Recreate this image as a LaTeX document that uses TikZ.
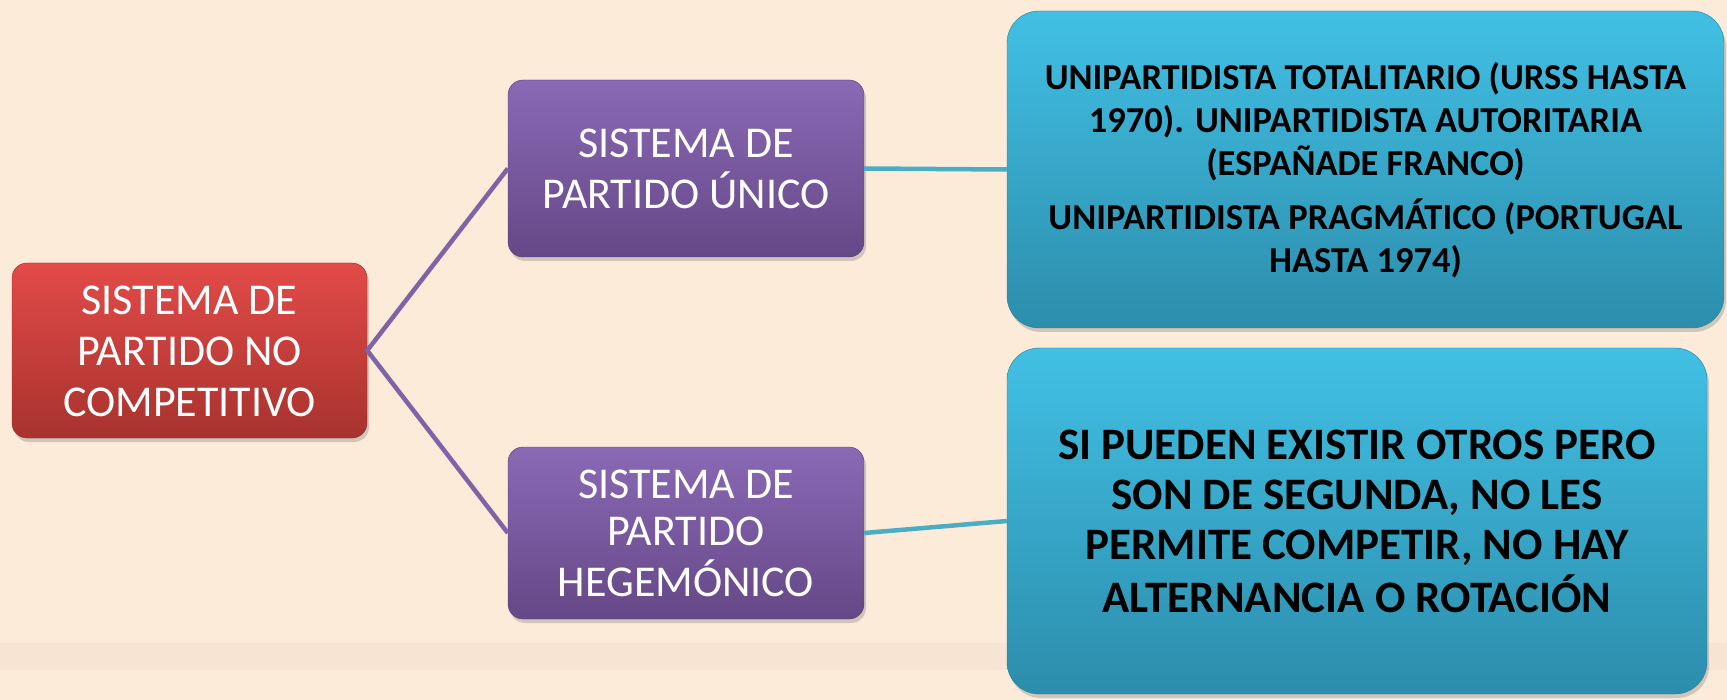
\documentclass[tikz,border=0pt]{standalone}
\usepackage{fontspec}
\setmainfont{Carlito}
\usetikzlibrary{shadows}

\definecolor{bgpeach}{HTML}{FDEBDA}
\definecolor{bgband}{HTML}{F4DFCD}
\definecolor{redtop}{HTML}{E24B48}
\definecolor{redbot}{HTML}{A8322E}
\definecolor{purtop}{HTML}{8A69B5}
\definecolor{purbot}{HTML}{654887}
\definecolor{blutop}{HTML}{41C0E4}
\definecolor{blubot}{HTML}{2C8DAC}
\definecolor{purline}{HTML}{7E64A6}
\definecolor{bluline}{HTML}{4BACC6}

% centred lines, set a little lower than the box centre
\newcommand{\boxtext}[2][5pt]{\raisebox{-#1}[\height][\depth]{\begin{tabular}{@{}c@{}}#2\end{tabular}}}

\tikzset{
  boxbase/.style={rectangle, inner sep=0pt,
    drop shadow={shadow xshift=2pt, shadow yshift=-4pt, opacity=0.35}},
  redbox/.style={boxbase, rounded corners=15pt, draw=redbot!85!black,
    top color=redtop, bottom color=redbot, text=white,
    minimum width=355pt, minimum height=175pt,
    font=\fontsize{44}{51}\selectfont},
  purplebox/.style={boxbase, rounded corners=15pt, draw=purbot!85!black,
    top color=purtop, bottom color=purbot, text=white,
    minimum width=356pt, font=\fontsize{44}{47}\selectfont},
  bluebox/.style={boxbase, rounded corners=32pt, draw=blubot!90!black,
    top color=blutop, bottom color=blubot, text=black},
  purpleline/.style={purline, line width=4.5pt},
  blueline/.style={bluline, line width=4.5pt}
}

\begin{document}
\begin{tikzpicture}[x=1pt, y=-1pt]
    % Background
    \useasboundingbox (0,0) rectangle (1727,700);
    \fill[bgpeach] (0,0) rectangle (1727,700);
    \fill[bgband, opacity=0.5] (0,643) rectangle (1727,670);

    % Root
    \node[redbox] (nocomp) at (189.5,350.5) {\boxtext{SISTEMA DE\\PARTIDO NO\\COMPETITIVO}};

    % Second level
    \node[purplebox, minimum height=177pt] (unico) at (686,168.5) {\boxtext{SISTEMA DE\\PARTIDO ÚNICO}};
    \node[purplebox, minimum height=172pt] (hegem) at (686,533) {\boxtext{SISTEMA DE\\PARTIDO\\HEGEMÓNICO}};

    % Descriptions
    \node[bluebox, minimum width=717pt, minimum height=317pt,
      font=\bfseries\fontsize{36.5}{43}\selectfont] (unidesc) at (1365.5,169.5)
      {\boxtext[3pt]{UNIPARTIDISTA TOTALITARIO (URSS HASTA\\1970). UNIPARTIDISTA AUTORITARIA\\(ESPAÑADE FRANCO)\\[10pt]
       UNIPARTIDISTA PRAGMÁTICO (PORTUGAL\\HASTA 1974)}};
    \node[bluebox, minimum width=700pt, minimum height=346pt,
      font=\bfseries\fontsize{45}{50}\selectfont] (hegdesc) at (1357,521)
      {\boxtext{SI PUEDEN EXISTIR OTROS PERO\\SON DE SEGUNDA, NO LES\\PERMITE COMPETIR, NO HAY\\ALTERNANCIA O ROTACIÓN}};

    % Connectors
    \draw[purpleline] (unico.west) -- (nocomp.east) -- (hegem.west);
    \draw[blueline] (unico.east) -- (unidesc.west);
    \draw[blueline] (hegem.east) -- (hegdesc.west);
\end{tikzpicture}
\end{document}
